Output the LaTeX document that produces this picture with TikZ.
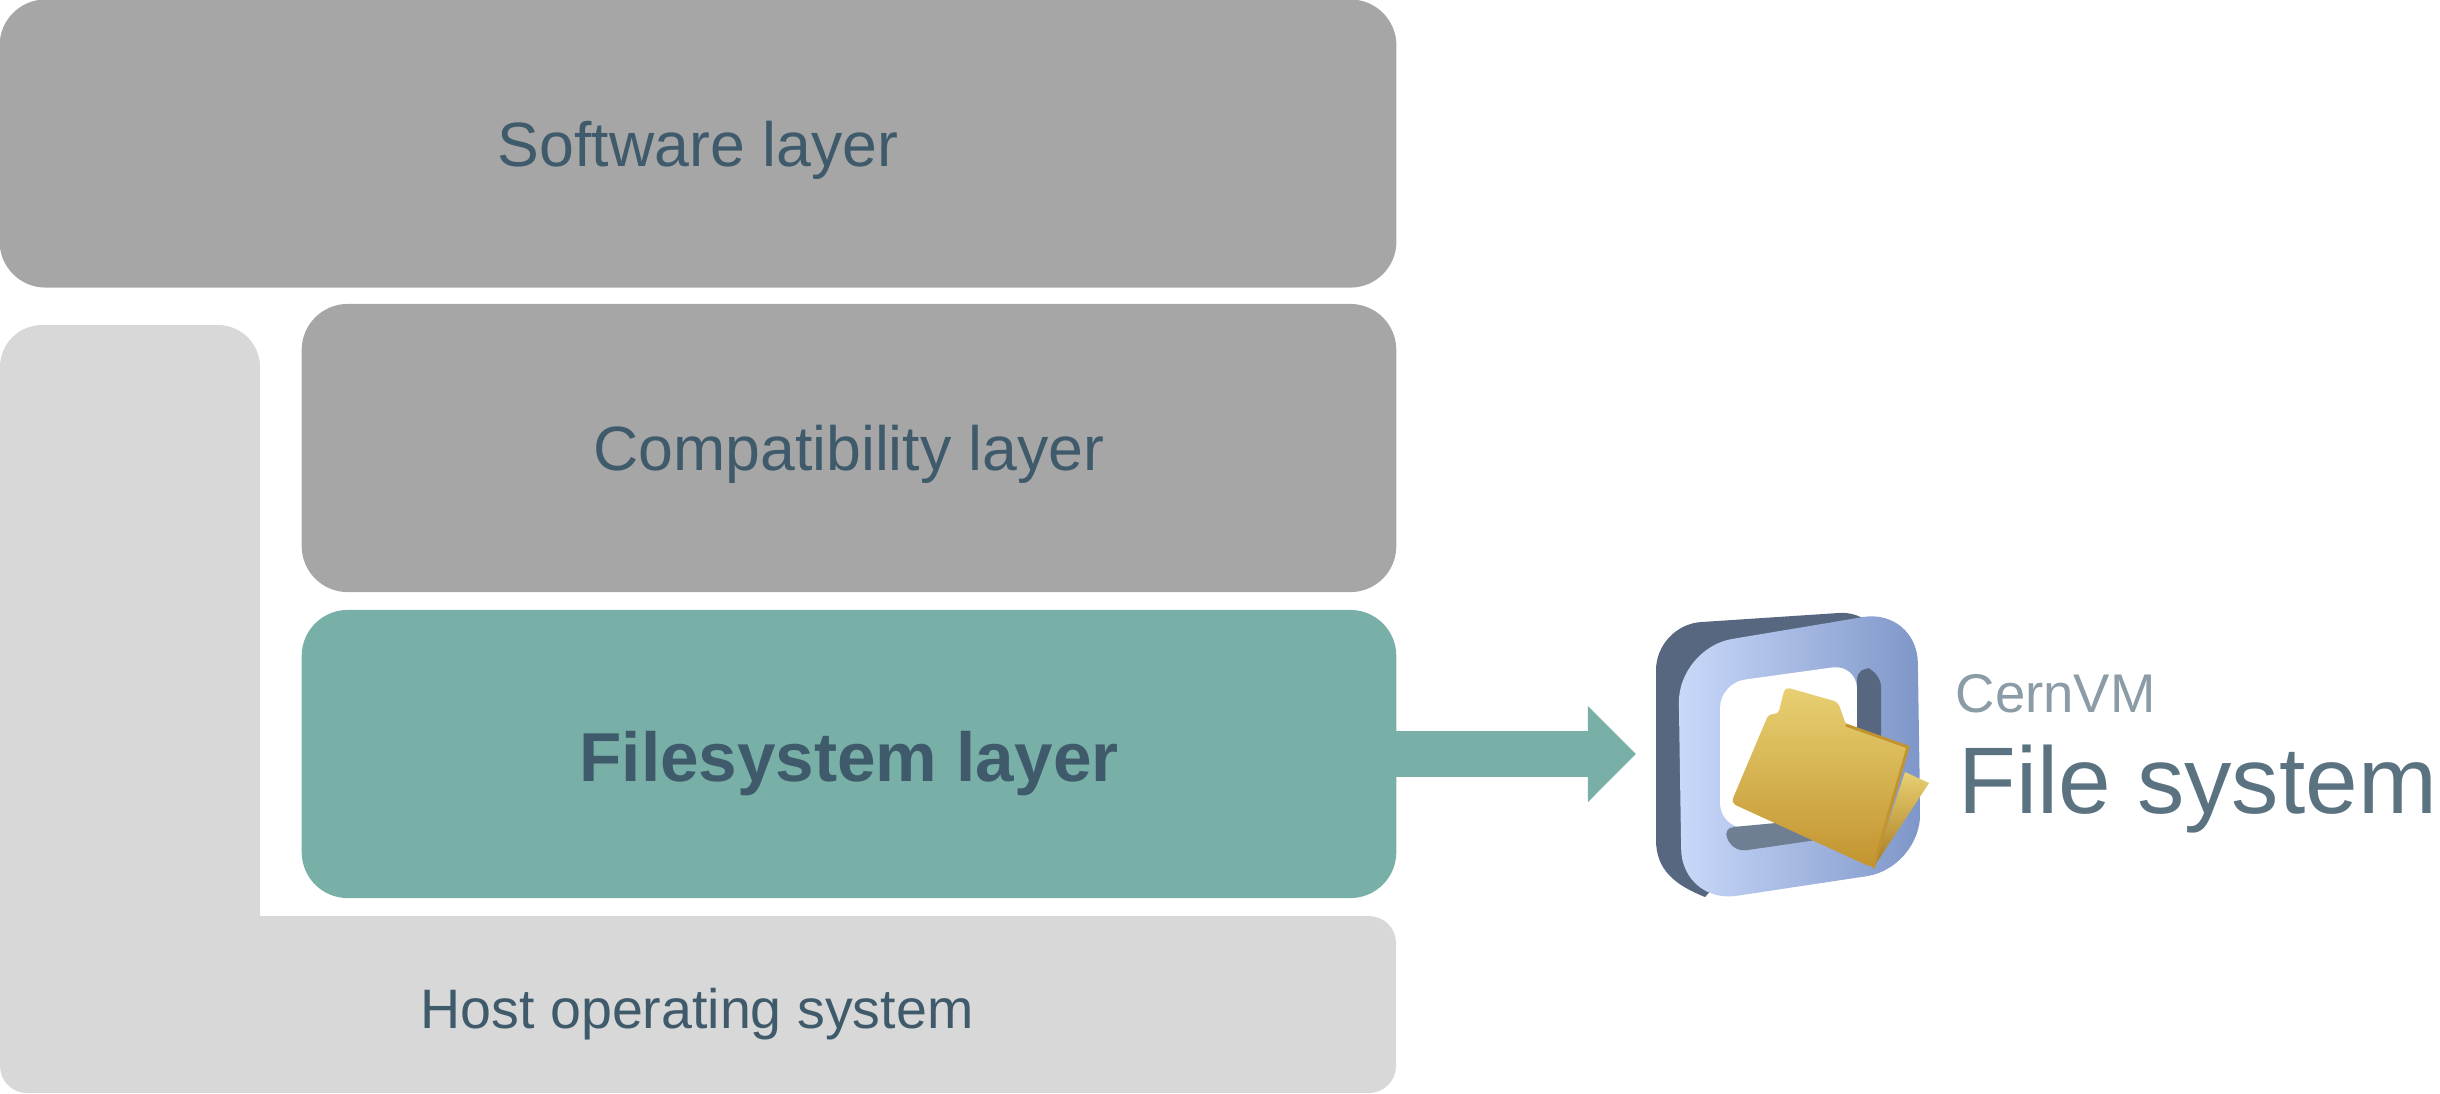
\documentclass[tikz,border=0pt]{standalone}
\usepackage{xcolor}
\usepackage{fontspec}
\setmainfont{Liberation Sans}
\usepackage{tikz}
\usetikzlibrary{arrows.meta}
\usetikzlibrary{positioning}
\definecolor{stackgray}{HTML}{A6A6A6}
\definecolor{hostgray}{HTML}{D8D8D8}
\definecolor{fsteal}{HTML}{78AFA7}
\definecolor{labelblue}{HTML}{3E5A6B}
\definecolor{frameback}{HTML}{56677F}
\definecolor{framelight}{HTML}{C9D9FA}
\definecolor{framemid}{HTML}{90A9E0}
\definecolor{framedark}{HTML}{7E96C8}
\definecolor{folderlight}{HTML}{E8D072}
\definecolor{folderdark}{HTML}{C2942F}
\definecolor{flapdark}{HTML}{A87A1F}
\tikzstyle{layer} = [rectangle, inner sep=0pt, minimum height=2.88cm, rounded corners=0.46cm, text=labelblue, text height=0.55cm, text depth=0.1cm]
\tikzstyle{logotext} = [anchor=base west, inner sep=0pt]

\begin{document}
\begin{tikzpicture}[x=0.01cm, y=-0.01cm]
\useasboundingbox (0,0) rectangle (2440,1093);
\fill [hostgray] (130,325) [rounded corners=0.42cm] -- (260,325) [sharp corners] -- (260,916) [rounded corners=0.27cm] -- (1396,916) -- (1396,1093) -- (0,1093) [rounded corners=0.42cm] -- (0,325) -- cycle;
\node [inner sep=0pt, text=labelblue, font=\fontsize{15.8}{19}\selectfont] (host) at (697,1014) {Host operating system};
\node [layer, fill=stackgray, minimum width=13.96cm, font=\fontsize{17.8}{21}\selectfont] (software) at (698,143.5) {Software layer};
\node [layer, fill=stackgray, minimum width=10.94cm, font=\fontsize{17.8}{21}\selectfont] (compat) at (849,448) {Compatibility layer};
\node [layer, fill=fsteal, minimum width=10.94cm, text height=0.64cm, font=\fontsize{19.7}{23}\selectfont\bfseries] (filesystem) at (849,754) {Filesystem layer};
\coordinate (logotip) at (1636,754);
\draw [-{Triangle[length=0.48cm, width=0.93cm]}, draw=fsteal, line width=0.46cm, shorten <=-2pt] (filesystem) to (logotip);
% logo
\fill [frameback] (1705,897) .. controls (1675,885) and (1656,870) .. (1656,840) [rounded corners=0.45cm] -- (1656,625) -- (1884,610) [sharp corners] -- (1884,700) -- cycle;
\shade [left color=framelight, middle color=framemid, right color=framedark, rounded corners=0.55cm] (1678,648) -- (1917,608) -- (1921,868) -- (1682,904) -- cycle;
\fill [white, rounded corners=0.25cm] (1720,828) -- (1720,683) -- (1857,664) -- (1857,828) -- cycle;
\fill [frameback, rounded corners=0.15cm] (1857,665) -- (1881,672) -- (1881,760) -- (1857,760) -- cycle;
\fill [frameback!85!white, rounded corners=0.12cm] (1722,828) -- (1830,818) -- (1830,838) -- (1734,852) -- cycle;
\shade [top color=folderlight, bottom color=flapdark] (1905,772) -- (1929,783) -- (1873,868) -- cycle;
\shade [top color=folderlight, bottom color=folderdark, rounded corners=0.05cm] (1785,687) -- (1838,702) -- (1846,725) -- (1908,747) -- (1873,868) -- (1731,803) -- (1769,713) -- (1778,715) -- cycle;
\draw [folderdark, line width=0.03cm] (1846,725) -- (1908,747) -- (1873,868);
\node [logotext, text=labelblue!60!white, font=\fontsize{15.5}{19}\selectfont] (cernvm) at (1955,712) {CernVM};
\node [logotext, text=labelblue!85!white, font=\fontsize{26.9}{32}\selectfont] (filesys) at (1958,813) {File system};
\end{tikzpicture}
\end{document}
